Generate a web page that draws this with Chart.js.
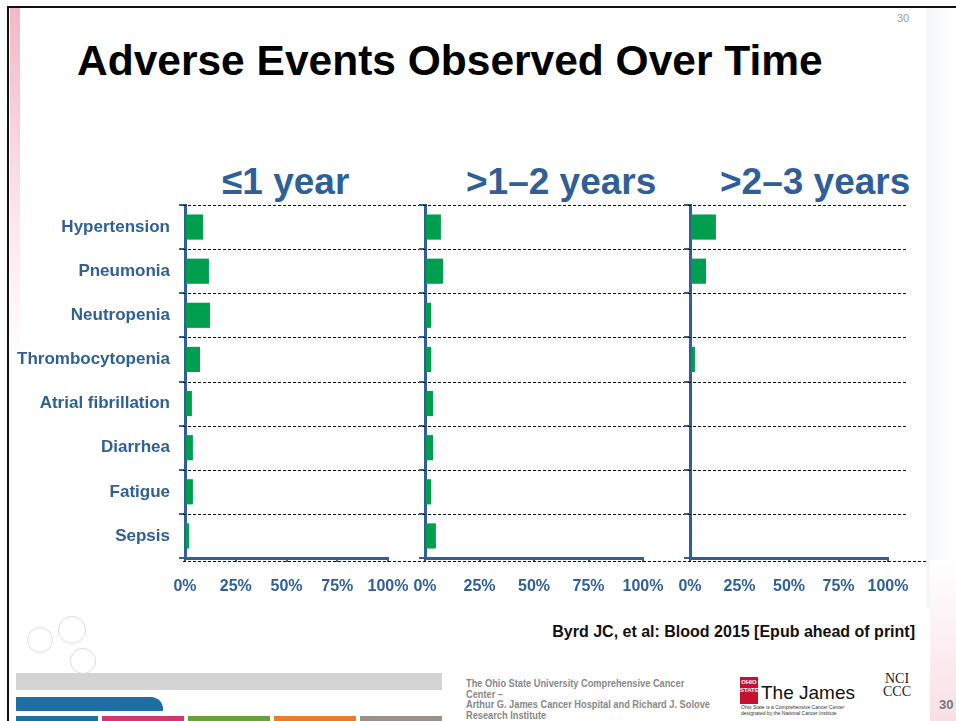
<!DOCTYPE html>
<html>
<head>
<meta charset="utf-8">
<title>Adverse Events Observed Over Time</title>
<script src="https://cdn.jsdelivr.net/npm/chart.js@4.4.1/dist/chart.umd.min.js"></script>
<style>
  html, body { margin: 0; padding: 0; background: #fff; }
  body { width: 956px; height: 721px; position: relative; overflow: hidden; font-family: Arial, 'Liberation Sans', sans-serif; }
  .abs { position: absolute; }
  canvas { position: absolute; }
  .title { left: 77px; top: 37px; font-size: 42.5px; font-weight: bold; color: #000; white-space: nowrap; }
  .panel-title { top: 161px; font-size: 37px; font-weight: bold; color: #2f5f97; white-space: nowrap; }
  .ref { right: 41px; top: 623px; font-size: 16px; font-weight: bold; color: #111; white-space: nowrap; }
  .foot { left: 466px; top: 678px; font-size: 10.5px; font-weight: bold; color: #888; line-height: 10.5px; white-space: nowrap; transform: scaleX(0.88); transform-origin: left top; }
</style>
</head>
<body>
<!-- slide frame and decoration -->
<div class="abs" style="left:7px;top:6px;width:949px;height:2px;background:#111"></div>
<div class="abs" style="left:7px;top:6px;width:2px;height:715px;background:#111"></div>
<div class="abs" style="left:10px;top:8px;width:10px;height:360px;background:linear-gradient(#f3b8c8,#fbe8ee 60%,#fff)"></div>
<div class="abs" style="left:926px;top:8px;width:30px;height:600px;background:linear-gradient(90deg,#f4f6f9,#fff)"></div>
<div class="abs" style="left:930px;top:560px;width:26px;height:161px;background:linear-gradient(#fff,#f8dfe6)"></div>
<div class="abs" style="left:16px;top:673px;width:426px;height:17px;background:#d4d4d4"></div>
<div class="abs" style="left:16px;top:697px;width:147px;height:14px;background:#1f6ea2;border-top-right-radius:12px"></div>
<div class="abs" style="left:16px;top:716px;width:82px;height:5px;background:#1f6ea2"></div>
<div class="abs" style="left:102px;top:716px;width:82px;height:5px;background:#d6336c"></div>
<div class="abs" style="left:188px;top:716px;width:82px;height:5px;background:#6aa13a"></div>
<div class="abs" style="left:274px;top:716px;width:82px;height:5px;background:#ee7b2c"></div>
<div class="abs" style="left:360px;top:716px;width:82px;height:5px;background:#9a918c"></div>
<div class="abs" style="left:27px;top:627px;width:24px;height:24px;border:1px solid #ddd;border-radius:50%"></div>
<div class="abs" style="left:58px;top:616px;width:26px;height:26px;border:1px solid #ddd;border-radius:50%"></div>
<div class="abs" style="left:70px;top:648px;width:24px;height:24px;border:1px solid #ddd;border-radius:50%"></div>

<div class="abs" style="left:897px;top:12px;font-size:11px;color:#999">30</div>
<div class="abs title">Adverse Events Observed Over Time</div>

<div class="abs panel-title" style="left:222px">≤1 year</div>
<div class="abs panel-title" style="left:466px">&gt;1–2 years</div>
<div class="abs panel-title" style="left:720px">&gt;2–3 years</div>

<canvas id="panel1" width="425" height="404" style="left:0px;top:195px"></canvas>
<canvas id="panel2" width="295" height="404" style="left:395px;top:195px"></canvas>
<canvas id="panel3" width="270" height="404" style="left:660px;top:195px"></canvas>

<div class="abs ref">Byrd JC, et al: Blood 2015 [Epub ahead of print]</div>
<div class="abs foot">The Ohio State University Comprehensive Cancer<br>Center –<br>Arthur G. James Cancer Hospital and Richard J. Solove<br>Research Institute</div>

<!-- logos -->
<div class="abs" style="left:740px;top:677px;width:18px;height:26px;background:#c8102e;color:#fff;font-size:6px;font-weight:bold;line-height:8px;text-align:center;padding-top:1px">OHIO<br>STATE</div>
<div class="abs" style="left:761px;top:682px;font-size:19px;color:#111;white-space:nowrap">The James</div>
<div class="abs" style="left:741px;top:704px;font-size:5px;color:#333;line-height:6px;white-space:nowrap">Ohio State is a Comprehensive Cancer Center<br>designated by the National Cancer Institute</div>
<div class="abs" style="left:883px;top:672px;font-family:'Liberation Serif',serif;font-size:14px;color:#222;line-height:13px;text-align:center">NCI<br>CCC</div>
<div class="abs" style="left:939px;top:697px;font-size:13px;font-weight:bold;color:#777">30</div>

<script>
// values (% of patients)
const categories = ['Hypertension', 'Pneumonia', 'Neutropenia', 'Thrombocytopenia', 'Atrial fibrillation', 'Diarrhea', 'Fatigue', 'Sepsis'];
const firstYear = [8.9, 11.8, 12.3, 7.4, 3.4, 3.9, 3.9, 2.0];
const oneToTwoYears = [7.3, 8.3, 2.8, 2.8, 3.7, 3.7, 2.8, 5.0];
const twoToThreeYears = [13.1, 8.1, 0, 2.5, 0, 0, 0, 0];
const xTicks = [0, 25, 50, 75, 100];

const axisBlue = '#2f5f97';
const barGreen = '#009e4f';

// dashed separators between the categories, stretched toward the next panel
const dashedRows = {
    id: 'dashedRows',
    beforeDatasetsDraw(chart, args, opts) {
        const y = chart.scales.y;
        const area = chart.chartArea;
        const ctx = chart.ctx;
        const half = (y.getPixelForValue(1) - y.getPixelForValue(0)) / 2;
        ctx.save();
        ctx.strokeStyle = '#111';
        ctx.lineWidth = 1;
        ctx.setLineDash([3, 2]);
        for (let i = 0; i <= categories.length; i++) {
            let py;
            if (i < categories.length) py = Math.round(y.getPixelForValue(i) - half) + 0.5;
            else py = Math.round(area.bottom) + 3.5;
            const end = i === categories.length ? opts.bottomEnd : opts.end;
            ctx.beginPath();
            ctx.moveTo(area.left - 2, py);
            ctx.lineTo(end, py);
            ctx.stroke();
        }
        ctx.restore();
    }
};

function makePanel(id, values, yWidth, rightPad, showLabels, lineEnd, bottomEnd) {
    const ctx = document.getElementById(id);
    return new Chart(ctx, {
        type: 'bar',
        data: {
            labels: categories,
            datasets: [{
                data: values,
                backgroundColor: barGreen,
                borderWidth: 0,
                barPercentage: 0.57,
                categoryPercentage: 1
            }]
        },
        plugins: [dashedRows],
        options: {
            indexAxis: 'y',
            responsive: false,
            animation: false,
            layout: { padding: { top: 10, left: 0, right: rightPad, bottom: 0 } },
            plugins: {
                legend: { display: false },
                tooltip: { enabled: false },
                dashedRows: { end: lineEnd, bottomEnd: bottomEnd }
            },
            scales: {
                x: {
                    min: 0,
                    max: 100,
                    afterFit: s => { s.height = 41; },
                    afterBuildTicks: s => { s.ticks = xTicks.map(v => ({ value: v })); },
                    border: { color: axisBlue, width: 3 },
                    grid: { drawOnChartArea: false, color: axisBlue, lineWidth: 2, tickLength: 4 },
                    ticks: {
                        color: axisBlue,
                        padding: 15,
                        font: { family: 'Arial', size: 16, weight: 'bold' },
                        callback: v => v + '%'
                    }
                },
                y: {
                    afterFit: s => { s.width = yWidth; s.paddingTop = 0; s.paddingBottom = 0; },
                    border: { color: axisBlue, width: 3 },
                    grid: { drawOnChartArea: false, offset: true, color: axisBlue, lineWidth: 2, tickLength: 6 },
                    ticks: {
                        display: showLabels,
                        color: axisBlue,
                        padding: 9,
                        font: { family: 'Arial', size: 17, weight: 'bold' }
                    }
                }
            }
        }
    });
}

makePanel('panel1', firstYear, 185, 37, true, 425, 425);
makePanel('panel2', oneToTwoYears, 30, 47, false, 295, 295);
makePanel('panel3', twoToThreeYears, 30, 42, false, 248, 268);
</script>
</body>
</html>
